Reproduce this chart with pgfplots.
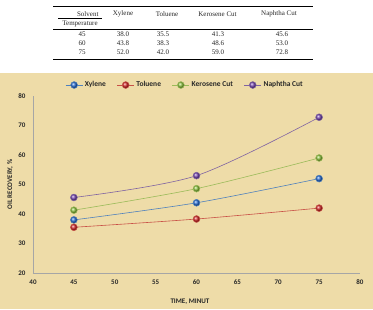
\documentclass[border=0pt]{standalone}
\usepackage{pgfplots}
\pgfplotsset{compat=1.18}
\usepackage{fontspec}
\setmainfont{Carlito}
\newfontfamily\tabfont{Liberation Serif}
\definecolor{bgbeige}{RGB}{238,220,168}
\definecolor{lxyl}{RGB}{79,129,189}
\definecolor{ltol}{RGB}{200,80,70}
\definecolor{lker}{RGB}{155,187,89}
\definecolor{lnap}{RGB}{128,100,162}
\definecolor{bxyl}{RGB}{40,110,215}
\definecolor{btol}{RGB}{215,40,40}
\definecolor{bker}{RGB}{140,195,60}
\definecolor{bnap}{RGB}{120,70,180}
\definecolor{txt}{RGB}{40,40,40}
\begin{document}
\begin{tikzpicture}[x=1pt,y=1pt]
% page frame
\fill[white] (0,0) rectangle (373,309);
\fill[bgbeige] (0,0) rectangle (373,236);
% table
\begin{scope}[font=\tabfont\fontsize{7}{8}\selectfont, text=txt]
\draw[line width=1.3pt] (53,302.3) -- (313,302.3);
\node[anchor=east] at (102,295) {Solvent};
\draw[line width=0.4pt] (58,290.7) -- (102,290.7);
\node at (80,285) {Temperature};
\node at (123,295) {Xylene};
\node at (167,295) {Toluene};
\node at (217.5,295) {Kerosene Cut};
\node at (279,295) {Naphtha Cut};
\draw[line width=1.1pt] (53,279.7) -- (313,279.7);
\node at (82,275) {45};
\node at (82,265.7) {60};
\node at (82,256.3) {75};
\node at (123,275) {38.0};
\node at (123,265.7) {43.8};
\node at (123,256.3) {52.0};
\node at (163,275) {35.5};
\node at (163,265.7) {38.3};
\node at (163,256.3) {42.0};
\node at (218,275) {41.3};
\node at (218,265.7) {48.6};
\node at (218,256.3) {59.0};
\node at (282,275) {45.6};
\node at (282,265.7) {53.0};
\node at (282,256.3) {72.8};
\draw[line width=1.6pt] (53,249.5) -- (313,249.5);
\end{scope}
\begin{axis}[
  at={(33pt,36pt)}, anchor=south west,
  scale only axis, width=327pt, height=177pt,
  xmin=40, xmax=80, ymin=20, ymax=80,
  xtick={40,45,...,80}, ytick={20,30,...,80},
  axis x line*=bottom, axis y line*=left,
  axis line style={draw=gray!70, line width=0.5pt, -},
  major tick length=0pt,
  /pgf/number format/assume math mode=true,
  tick label style={font=\bfseries\fontsize{7}{8}\selectfont, text=txt},
  xticklabel style={yshift=-3.5pt},
  yticklabel style={xshift=-4pt},
  ylabel={OIL RECOVERY, \%},
  xlabel={TIME, MINUT},
  label style={font=\bfseries\fontsize{7}{8}\selectfont, text=txt},
  ylabel style={at={(axis description cs:-0.07,0.5)}, anchor=center, rotate=0},
  xlabel style={at={(axis description cs:0.48,-0.164)}, anchor=center},
  legend style={at={(axis description cs:0.465,1.062)}, anchor=center,
    draw=none, fill=none, legend columns=4,
    font=\bfseries\fontsize{7.5}{9}\selectfont, text=txt,
    /tikz/every even column/.append style={column sep=9pt}},
  legend cell align=left,
  every axis plot/.append style={line width=0.6pt, smooth, mark=ball, mark size=3.4pt},
]
\addplot[lxyl, mark options={ball color=bxyl}] coordinates {(45,38.0) (60,43.8) (75,52.0)};
\addlegendentry{Xylene}
\addplot[ltol, mark options={ball color=btol}] coordinates {(45,35.5) (60,38.3) (75,42.0)};
\addlegendentry{Toluene}
\addplot[lker, mark options={ball color=bker}] coordinates {(45,41.3) (60,48.6) (75,59.0)};
\addlegendentry{Kerosene Cut}
\addplot[lnap, mark options={ball color=bnap}] coordinates {(45,45.6) (60,53.0) (75,72.8)};
\addlegendentry{Naphtha Cut}
\end{axis}
\end{tikzpicture}
\end{document}
